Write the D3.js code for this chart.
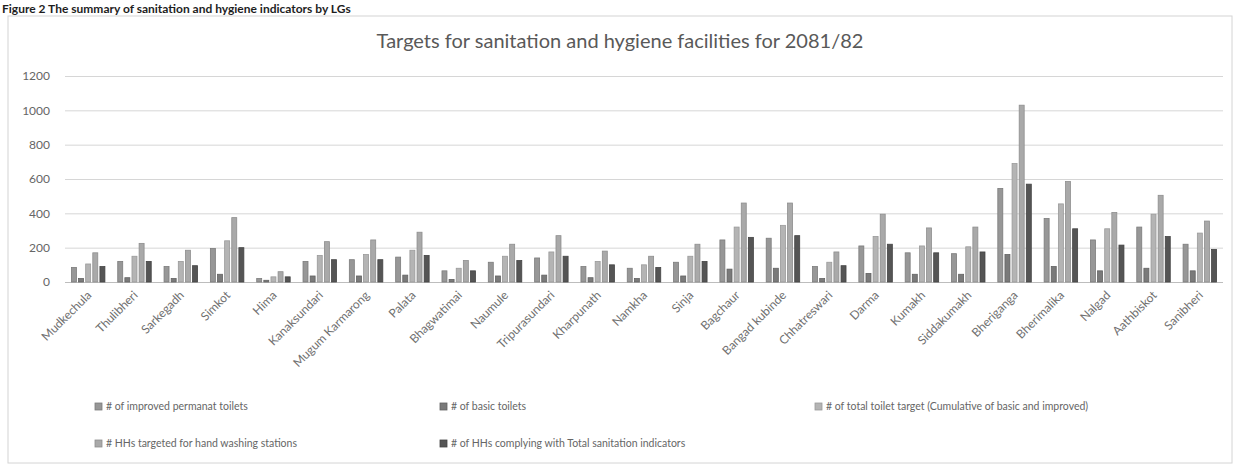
<!DOCTYPE html>
<html>
<head>
<meta charset="utf-8">
<script src="https://cdn.jsdelivr.net/npm/d3@7"></script>
<style>
  body { margin: 0; background: #fff; }
  svg { display: block; }
</style>
</head>
<body>
<svg id="chart" width="1239" height="467"></svg>
<script>
// values
var categories = ['Mudkechula', 'Thulibheri', 'Sarkegadh', 'Simkot', 'Hima', 'Kanaksundari',
  'Mugum Karmarong', 'Palata', 'Bhagwatimai', 'Naumule', 'Tripurasundari', 'Kharpunath',
  'Namkha', 'Sinja', 'Bagchaur', 'Bangad kubinde', 'Chhatreswari', 'Darma', 'Kumakh',
  'Siddakumakh', 'Bheriganga', 'Bherimalika', 'Nalgad', 'Aathbiskot', 'Sanibheri'];

var improved  = [85, 120, 90, 195, 20, 120, 130, 145, 65, 115, 140, 90, 80, 115, 245, 255, 90, 210, 170, 165, 545, 370, 245, 320, 220];
var basic     = [20, 25, 20, 45, 10, 35, 35, 40, 15, 35, 40, 25, 20, 35, 75, 80, 20, 50, 45, 45, 160, 90, 65, 80, 65];
var total     = [105, 150, 120, 240, 30, 155, 160, 185, 80, 150, 175, 120, 100, 150, 320, 330, 115, 265, 210, 205, 690, 455, 310, 395, 285];
var handwash  = [170, 225, 185, 375, 60, 235, 245, 290, 125, 220, 270, 180, 150, 220, 460, 460, 175, 395, 315, 320, 1030, 585, 405, 505, 355];
var complying = [90, 120, 95, 200, 30, 130, 130, 155, 65, 125, 150, 100, 85, 120, 260, 270, 95, 220, 170, 175, 570, 310, 215, 265, 190];

var seriesNames = ['# of improved permanat toilets', '# of basic toilets',
  '# of total toilet target (Cumulative of basic and improved)',
  '# HHs targeted for hand washing stations',
  '# of HHs complying with Total sanitation indicators'];
var yTicks = [0, 200, 400, 600, 800, 1000, 1200];

var seriesValues = [improved, basic, total, handwash, complying];
var colors = ['#979797', '#7a7a7a', '#b4b4b4', '#a9a9a9', '#555555'];
var strokes = ['#7c7c7c', '#626262', '#9a9a9a', '#8e8e8e', '#444444'];

var svg = d3.select('#chart');
var font = 'Lato, "Open Sans", sans-serif';

var margins = { top: 76, bottom: 185, left: 65, right: 16 };
var width = 1239, height = 467;

// caption of the figure, sits just above the chart frame
svg.append('text')
  .attr('x', 2)
  .attr('y', 13)
  .attr('font-family', font)
  .attr('font-weight', 'bold')
  .attr('font-size', '12px')
  .attr('fill', '#1e1e1e')
  .text('Figure 2 The summary of sanitation and hygiene indicators by LGs');

// chart frame
svg.append('rect')
  .attr('x', 8).attr('y', 16)
  .attr('width', 1224).attr('height', 447)
  .attr('fill', 'none')
  .attr('stroke', '#d4d4d4');

svg.append('text')
  .attr('x', 620)
  .attr('y', 48)
  .attr('text-anchor', 'middle')
  .attr('font-family', font)
  .attr('font-size', '20px')
  .attr('fill', '#595959')
  .text('Targets for sanitation and hygiene facilities for 2081/82');

var y = d3.scaleLinear()
  .domain([0, 1200])
  .range([height - margins.bottom, margins.top]);

var x0 = d3.scaleBand()
  .domain(categories)
  .range([margins.left, width - margins.right])
  .padding(0);

var x1 = d3.scaleBand()
  .domain(d3.range(seriesValues.length))
  .range([0, x0.bandwidth()])
  .paddingInner(0.3)
  .paddingOuter(0.9);

// gridlines + y labels
var yAxis = svg.append('g')
  .attr('transform', 'translate(' + margins.left + ',0)')
  .call(d3.axisLeft(y).tickValues(yTicks).tickFormat(d3.format('d'))
    .tickSize(-(width - margins.left - margins.right)).tickPadding(15));
yAxis.select('.domain').remove();
yAxis.selectAll('.tick line')
  .attr('stroke', function(d) { return d === 0 ? '#bdbdbd' : '#d6d6d6'; })
  .attr('stroke-width', 1);
yAxis.selectAll('.tick text')
  .attr('font-family', font)
  .attr('font-size', '12px')
  .attr('fill', '#666');

// bars
var groups = svg.append('g')
  .selectAll('g')
  .data(categories)
  .enter()
  .append('g')
  .attr('transform', function(d) { return 'translate(' + x0(d) + ',0)'; });

groups.selectAll('rect')
  .data(function(d, i) {
    return seriesValues.map(function(s, k) { return { k: k, value: s[i] }; });
  })
  .enter()
  .append('rect')
  .attr('x', function(d) { return x1(d.k); })
  .attr('y', function(d) { return y(d.value); })
  .attr('width', x1.bandwidth())
  .attr('height', function(d) { return y(0) - y(d.value); })
  .attr('fill', function(d) { return colors[d.k]; })
  .attr('stroke', function(d) { return strokes[d.k]; })
  .attr('stroke-width', 0.8);

// slanted category labels
svg.append('g')
  .selectAll('text')
  .data(categories)
  .enter()
  .append('text')
  .attr('transform', function(d) {
    return 'translate(' + (x0(d) + x0.bandwidth() / 2 + 4) + ',' + (y(0) + 14) + ') rotate(-45)';
  })
  .attr('text-anchor', 'end')
  .attr('font-family', font)
  .attr('font-size', '12px')
  .attr('fill', '#707070')
  .text(function(d) { return d; });

// legend
var legendPos = [[95, 410], [440, 410], [815, 410], [95, 447], [440, 447]];
var legend = svg.append('g')
  .selectAll('g')
  .data(seriesNames)
  .enter()
  .append('g')
  .attr('transform', function(d, i) {
    return 'translate(' + legendPos[i][0] + ',' + legendPos[i][1] + ')';
  });

legend.append('rect')
  .attr('x', 0).attr('y', -7)
  .attr('width', 7).attr('height', 7)
  .attr('fill', function(d, i) { return colors[i]; })
  .attr('stroke', function(d, i) { return strokes[i]; })
  .attr('stroke-width', 0.8);

legend.append('text')
  .attr('x', 11)
  .attr('y', 0)
  .attr('font-family', font)
  .attr('font-size', '10.5px')
  .attr('fill', '#666')
  .text(function(d) { return d; });
</script>
</body>
</html>
